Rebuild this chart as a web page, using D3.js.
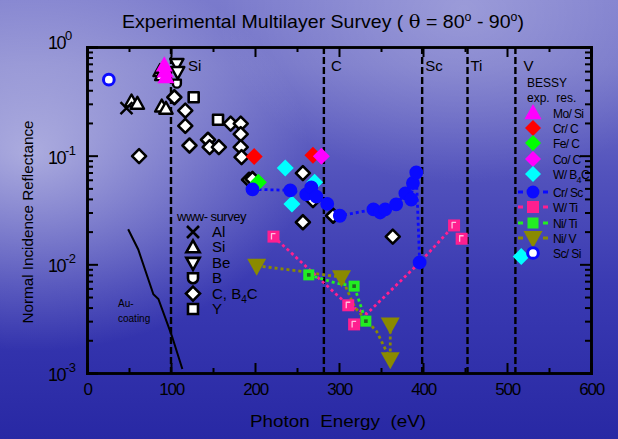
<!DOCTYPE html>
<html><head><meta charset="utf-8">
<script src="https://cdn.jsdelivr.net/npm/d3@7"></script>
<style>
html,body{margin:0;padding:0;background:#3a3ab0;}
svg{display:block;font-family:"Liberation Sans",Arial,sans-serif;}
</style></head>
<body><svg id="c" width="618" height="439"></svg>
<script>
// ---------- data ----------
const xTicks = [0,100,200,300,400,500,600];
const xMinorTicks = [50,150,250,350,450,550];
const yDecades = [-3,-2,-1,0];
const edgeNames = ["Si","C","Sc","Ti","V"];
const edgeEnergies = [100,282,399,453,510];

// www-survey (black open markers)
const wwwAl = [[47,0.274]];
const wwwSi = [[53,0.315],[60,0.30],[89,0.283],[94,0.27],[87,0.60],[89,0.55],[91,0.64]];
const wwwBe = [[107,0.70],[108,0.59]];
const wwwB  = [[107,0.46]];
const wwwC  = [[62,0.099],[104,0.345],[117,0.26],[117,0.188],[122,0.124],[144,0.14],[146,0.12],
               [157,0.12],[171,0.197],[183,0.197],[183,0.158],[183,0.12],[184,0.097],[193,0.060],
               [197,0.061],[257,0.069],[269,0.039],[257,0.0244],[293,0.028],[364,0.018]];
const wwwY  = [[127,0.345],[156,0.214]];

// BESSY experimental results
const moSi  = [[92,0.68],[93,0.60],[94,0.53]];
const crC   = [[199,0.098],[269,0.101]];
const feC   = [[204,0.057]];
const coC   = [[279,0.099]];
const wB4C  = [[236,0.077],[244,0.036],[271,0.057],[517,0.0118]];
const crSc  = [[197,0.049],[242,0.048],[261,0.044],[267,0.051],[273,0.042],[286,0.036],[301,0.028],
               [341,0.032],[349,0.030],[355,0.032],[368,0.0356],[379,0.045],[386,0.0395],[388,0.056],
               [392,0.070],[396,0.0104]];
const wTi   = [[222,0.018],[311,0.0042],[318,0.0028],[437,0.0228],[446,0.0172]];
const wTiLine = [[222,0.018],[311,0.0042],[333,0.0035],[396,0.0104],[437,0.0228]];
const niTi  = [[264,0.008],[318,0.0063],[332,0.003]];
const niTiLine = [[264,0.008],[297,0.0067],[318,0.0063],[332,0.003]];
const niV   = [[202,0.0097],[303,0.0076],[361,0.0028],[361,0.00134]];
const niVLine = [[202,0.0097],[251,0.0087],[303,0.0076],[319,0.0040],[345,0.0024],[361,0.00134]];
const niVDrop = [[361,0.0028],[361,0.00134]];
const scSi  = [[26,0.50]];
const auCoating = [[49,0.021],[61,0.0137],[79,0.0053],[85,0.0048],[101,0.0022],[113.5,0.00109]];

const wwwLegend = ["Al","Si","Be","B","C, B4C","Y"];
const bessyLegend = ["Mo/Si","Cr/C","Fe/C","Co/C","W/B4C","Cr/Sc","W/Ti","Ni/Ti","Ni/V","Sc/Si"];

// ---------- setup ----------
const svg = d3.select("#c");
const L=87,R=591,T=47,B=373;
const x = d3.scaleLinear().domain([0,600]).range([L,R]);
const y = d3.scaleLog().domain([1e-3,1]).range([B,T]);

const defs = svg.append("defs");
const g1 = defs.append("linearGradient").attr("id","bg").attr("x1",0).attr("y1",0).attr("x2",0).attr("y2",1);
[[0,"#7a7acc"],[0.15,"#7474c8"],[0.4,"#5252bc"],[0.65,"#3a3ab2"],[1,"#2828a4"]]
  .forEach(([o,c])=>g1.append("stop").attr("offset",o).attr("stop-color",c));
const g2 = defs.append("radialGradient").attr("id","hl").attr("cx",0.05).attr("cy",0.35).attr("r",0.45);
g2.append("stop").attr("offset",0).attr("stop-color","#ffffff").attr("stop-opacity",0.5);
g2.append("stop").attr("offset",1).attr("stop-color","#ffffff").attr("stop-opacity",0);
const g3 = defs.append("radialGradient").attr("id","hl2").attr("cx",0.75).attr("cy",0.02).attr("r",0.4);
g3.append("stop").attr("offset",0).attr("stop-color","#ffffff").attr("stop-opacity",0.25);
g3.append("stop").attr("offset",1).attr("stop-color","#ffffff").attr("stop-opacity",0);
svg.append("rect").attr("width",618).attr("height",439).attr("fill","url(#bg)");
svg.append("rect").attr("width",618).attr("height",439).attr("fill","url(#hl)");
svg.append("rect").attr("width",618).attr("height",439).attr("fill","url(#hl2)");

// ---------- title & labels ----------
const title = svg.append("text").attr("x",122).attr("y",28).attr("font-size",19)
  .attr("textLength",402).attr("lengthAdjust","spacingAndGlyphs").attr("fill","#000");
title.append("tspan").text("Experimental  Multilayer  Survey  ( ");
title.append("tspan").attr("font-family","DejaVu Serif, serif").text("θ");
title.append("tspan").text(" = 80");
title.append("tspan").attr("dy",-7).attr("font-size",12).text("o");
title.append("tspan").attr("dy",7).text(" - 90");
title.append("tspan").attr("dy",-7).attr("font-size",12).text("o");
title.append("tspan").attr("dy",7).text(")");

svg.append("text").attr("x",250).attr("y",427).attr("font-size",17)
  .attr("textLength",176).attr("lengthAdjust","spacingAndGlyphs")
  .style("white-space","pre").text("Photon  Energy  (eV)");
svg.append("text").attr("transform","translate(33,222) rotate(-90)").attr("text-anchor","middle")
  .attr("font-size",15).attr("textLength",203).attr("lengthAdjust","spacingAndGlyphs")
  .text("Normal Incidence Reflectance");

// ---------- edges ----------
const edgeDx = [17,7,3,3,8];
const eg = svg.append("g");
edgeEnergies.forEach((e,i)=>{
  eg.append("line").attr("x1",x(e)).attr("x2",x(e)).attr("y1",T).attr("y2",B)
    .attr("stroke","#000").attr("stroke-width",2.4).attr("stroke-dasharray","7,3");
  eg.append("text").attr("x",x(e)+edgeDx[i]).attr("y",71).attr("font-size",15).text(edgeNames[i]);
});

// ---------- axes ----------
function styleAxis(g){ g.select(".domain").attr("stroke","#000").attr("stroke-width",2.6);
  g.selectAll(".tick line").attr("stroke","#000").attr("stroke-width",2); }
const ax = svg.append("g");
ax.append("g").attr("transform",`translate(0,${B})`)
  .call(d3.axisBottom(x).tickValues(xTicks).tickSize(-10).tickPadding(10).tickFormat(d3.format("d")))
  .call(styleAxis).call(g=>g.selectAll("text").attr("font-size",17).attr("fill","#000")
     .attr("font-family","Liberation Sans, Arial").attr("letter-spacing",-1.2));
ax.append("g").attr("transform",`translate(0,${B})`)
  .call(d3.axisBottom(x).tickValues(xMinorTicks).tickSize(-5).tickFormat("")).call(styleAxis);
ax.append("g").attr("transform",`translate(0,${T})`)
  .call(d3.axisTop(x).tickValues(xTicks).tickSize(-10).tickFormat("")).call(styleAxis);
ax.append("g").attr("transform",`translate(0,${T})`)
  .call(d3.axisTop(x).tickValues(xMinorTicks).tickSize(-5).tickFormat("")).call(styleAxis);

const yMajor = yDecades.map(d=>Math.pow(10,d));
const yMinor = [];
yDecades.slice(0,3).forEach(d=>{ for(let k=2;k<=9;k++) yMinor.push(k*Math.pow(10,d)); });
ax.append("g").attr("transform",`translate(${L},0)`)
  .call(d3.axisLeft(y).tickValues(yMajor).tickSize(-11).tickFormat(""))
  .call(styleAxis);
ax.append("g").attr("transform",`translate(${L},0)`)
  .call(d3.axisLeft(y).tickValues(yMinor).tickSize(-6).tickFormat("")).call(styleAxis);
ax.append("g").attr("transform",`translate(${R},0)`)
  .call(d3.axisRight(y).tickValues(yMajor).tickSize(-11).tickFormat("")).call(styleAxis);
ax.append("g").attr("transform",`translate(${R},0)`)
  .call(d3.axisRight(y).tickValues(yMinor).tickSize(-6).tickFormat("")).call(styleAxis);
yDecades.forEach(d=>{
  const t = svg.append("text").attr("x",48).attr("y",y(Math.pow(10,d))+(d===0?2:8))
    .attr("font-size",18).attr("letter-spacing",-1.5);
  t.append("tspan").text("10");
  t.append("tspan").attr("dy",-9).attr("font-size",13).attr("letter-spacing",-0.5).text(String(d));
});

// ---------- markers ----------
const diamond = r=>`M0,${-r}L${r},0L0,${r}L${-r},0Z`;
const triUp = s=>`M0,${-s}L${s*0.95},${s*0.7}L${-s*0.95},${s*0.7}Z`;
const triDn = s=>`M0,${s}L${s*0.95},${-s*0.7}L${-s*0.95},${-s*0.7}Z`;
const square = s=>`M${-s},${-s}H${s}V${s}H${-s}Z`;
const cross = s=>`M${-s},${-s}L${s},${s}M${s},${-s}L${-s},${s}`;
const shield = s=>`M${-s},${-s}H${s}V0A${s},${s} 0 0 1 ${-s},0Z`;

const lineGen = d3.line().x(d=>x(d[0])).y(d=>y(d[1]));
const pg = svg.append("g");

// Au coating curve
pg.append("path").attr("d",lineGen(auCoating)).attr("fill","none").attr("stroke","#000").attr("stroke-width",2);
svg.append("text").attr("x",118).attr("y",307).attr("font-size",10).text("Au-");
svg.append("text").attr("x",118).attr("y",322).attr("font-size",10).text("coating");

function pts(data, path, fill, stroke, sw){
  pg.selectAll(null).data(data).join("path")
    .attr("transform",d=>`translate(${x(d[0])},${y(d[1])})`)
    .attr("d",path).attr("fill",fill).attr("stroke",stroke).attr("stroke-width",sw)
    .attr("stroke-linejoin","round");
}
function dotted(data,color){
  pg.append("path").attr("d",lineGen(data)).attr("fill","none").attr("stroke",color)
    .attr("stroke-width",2.8).attr("stroke-dasharray","3,3");
}

// www-survey
pts(wwwC, diamond(7), "#fff","#000",2.6);
pts(wwwY, square(5), "#fff","#000",2.6);
pts(wwwB, shield(4), "#fff","#000",2.4);
pts(wwwSi, triUp(7), "#fff","#000",2.4);
pts(wwwBe, triDn(7), "#fff","#000",2.4);
pts(wwwAl, cross(6), "none","#000",2.4);

// BESSY lines
dotted(wTiLine,"#ff1f8f");
dotted(niVLine,"#8a8a00");
dotted(niVDrop,"#8a8a00");
dotted(niTiLine,"#22ee22");
dotted(crSc,"#0a0aff");

pts(moSi, triUp(9), "#ff00ff","none",0);
pts(crC, diamond(8.5), "#ff0000","none",0);
pts(feC, diamond(8.5), "#00ff00","none",0);
pts(coC, diamond(8.5), "#ff00ff","none",0);
pts(wB4C, diamond(8.5), "#00ffff","none",0);
pts(crSc, d3.symbol(d3.symbolCircle, 150)(), "#0a0aff","none",0);
pts(niV, triDn(10), "#8a8a00","none",0);
pts(niTi, square(5.5), "#22ee22","#119911",0);
pts(niTi, square(1.8), "#226622","none",0);
pts(wTi, square(6), "#ff1f8f","none",0);
pts(wTi, "M-2,3V-3H2", "none","#ffc0e0",1.3);
pts(scSi, d3.symbol(d3.symbolCircle, 90)(), "#fff","#0a0aff",3);

// ---------- legends ----------
const wl = svg.append("g");
wl.append("text").attr("x",177).attr("y",221).attr("font-size",13).attr("letter-spacing",-0.5).text("www- survey");
const wwwShapes = [cross(6), triUp(7), triDn(7), shield(5), diamond(7), square(5)];
wwwLegend.forEach((n,i)=>{
  const yy = 232 + i*15.4;
  wl.append("path").attr("transform",`translate(193,${yy})`).attr("d",wwwShapes[i])
    .attr("fill",i===0?"none":"#fff").attr("stroke","#000").attr("stroke-width",2.6);
  const t = wl.append("text").attr("x",212).attr("y",yy+5).attr("font-size",15);
  if(n.includes("B4C")){ t.append("tspan").text("C,  B"); t.append("tspan").attr("font-size",10).attr("dy",4).text("4"); t.append("tspan").attr("dy",-4).text("C"); }
  else t.text(n);
});

const bl = svg.append("g");
bl.append("text").attr("x",527).attr("y",87).attr("font-size",12).text("BESSY");
bl.append("text").attr("x",527).attr("y",102).attr("font-size",12).style("white-space","pre").text("exp.  res.");
const bessyRows = [113,128,143,159,174,192,207,223,238,253];
const bessyShapes = [
  {p:triUp(9),f:"#ff00ff"},{p:diamond(8),f:"#ff0000"},{p:diamond(8),f:"#00ff00"},{p:diamond(8),f:"#ff00ff"},
  {p:diamond(8),f:"#00ffff"},{p:d3.symbol(d3.symbolCircle,130)(),f:"#0a0aff",ln:"#0a0aff"},
  {p:square(6),f:"#ff1f8f",ln:"#ff1f8f"},{p:square(5.5),f:"#22ee22",ln:"#22ee22"},
  {p:triDn(10),f:"#8a8a00",ln:"#8a8a00"},{p:d3.symbol(d3.symbolCircle,90)(),f:"#fff",s:"#0a0aff"}];
bessyLegend.forEach((n,i)=>{
  const yy = bessyRows[i], sh = bessyShapes[i];
  if(sh.ln){
    bl.append("line").attr("x1",518).attr("x2",548).attr("y1",yy).attr("y2",yy)
      .attr("stroke",sh.ln).attr("stroke-width",2.8).attr("stroke-dasharray","5,20");
  }
  bl.append("path").attr("transform",`translate(533,${yy})`).attr("d",sh.p)
    .attr("fill",sh.f).attr("stroke",sh.s||"none").attr("stroke-width",sh.s?3:0);
  const t = bl.append("text").attr("x",553).attr("y",yy+4.5).attr("font-size",12).attr("letter-spacing",-0.6);
  if(n==="W/B4C"){ t.append("tspan").text("W/ B"); t.append("tspan").attr("font-size",9).attr("dy",4).text("4"); t.append("tspan").attr("dy",-4).text("C"); }
  else t.text(n.replace("/","/ "));
});
</script></body></html>
